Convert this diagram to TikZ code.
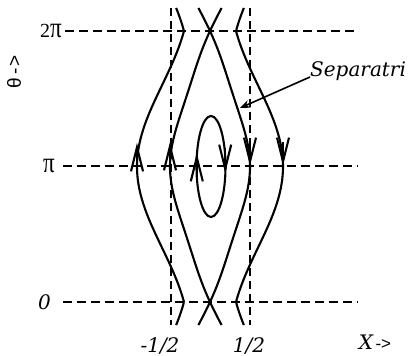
\documentclass[tikz,border=0pt]{standalone}
\usepackage{fontspec}
\usepackage{graphicx}
\setmainfont{Liberation Serif}
\newfontfamily\lblfont{DejaVu Serif}
\newfontfamily\sansfnt{Liberation Sans}
\usetikzlibrary{arrows.meta}
\newcommand{\bigpi}{\scalebox{1.15}[1.45]{π}}
\begin{document}
\begin{tikzpicture}[x=1pt,y=1pt,
  hdash/.style={dash pattern=on 9pt off 5pt, line width=2pt},
  vdash/.style={dash pattern=on 8pt off 5pt, line width=1.3pt},
  traj/.style={line width=2.1pt},
  barb/.style={traj, -{Straight Barb[length=24pt,width=12pt]}},
  romlbl/.style={font=\fontsize{20}{24}\selectfont, inner sep=0pt},
  itlbl/.style={font=\lblfont\itshape\fontsize{20}{24}\selectfont, inner sep=0pt},
  sanslbl/.style={font=\sansfnt\fontsize{19}{22}\selectfont, inner sep=0pt}]
\useasboundingbox (0,0) rectangle (408,356);
% axis labels
\node[romlbl, anchor=east] (t2pi) at (62,325) {2\bigpi};
\node[romlbl, anchor=east] (tpi) at (55,190) {\bigpi};
\node[itlbl, anchor=east] (t0) at (51,54) {0};
\node[itlbl] (tm) at (160,10) {-1/2};
\node[itlbl] (th) at (249,10) {1/2};
\node[inner sep=0pt] (tx) at (375,14) {{\lblfont\itshape\fontsize{20}{24}\selectfont X} {\sansfnt\fontsize{17}{20}\selectfont ->}};
\node[sanslbl, rotate=90] (tth) at (14,284) {θ\kern3pt-\kern2pt>};
% dashed reference lines
\coordinate (a2s) at (65,325); \coordinate (a2e) at (358,325);
\coordinate (a1s) at (63,190); \coordinate (a1e) at (358,190);
\coordinate (a0s) at (63,54);  \coordinate (a0e) at (358,54);
\coordinate (v1t) at (171,348); \coordinate (v1b) at (171,31);
\coordinate (v2t) at (250,348); \coordinate (v2b) at (250,31);
\draw[hdash] (a2s) -- (a2e);
\draw[hdash] (a1s) -- (a1e);
\draw[hdash] (a0s) -- (a0e);
\draw[vdash] (v1t) -- (v1b);
\draw[vdash] (v2t) -- (v2b);
% trajectories
\draw[traj] plot[domain=-15.3:195.3, samples=121, smooth]
  ({210-26-23.5*abs(sin(\x))-23.5*sin(\x)^2}, {54+1.50556*\x});
\draw[traj] plot[domain=-15.3:195.3, samples=121, smooth]
  ({210+26+23.5*abs(sin(\x))+23.5*sin(\x)^2}, {54+1.50556*\x});
\draw[traj] plot[domain=-15.3:195.3, samples=121, smooth]
  ({210-40*sin(\x)+4*sin(2*\x)^2}, {54+1.50556*\x});
\draw[traj] plot[domain=-15.3:195.3, samples=121, smooth]
  ({210+40*sin(\x)-4*sin(2*\x)^2}, {54+1.50556*\x});
\draw[traj] (211,189.5) ellipse [x radius=14.5, y radius=50.5];
% direction arrows
\coordinate (p1a) at (137,187); \coordinate (p1b) at (137,213);
\coordinate (p2a) at (170,187); \coordinate (p2b) at (170,214);
\coordinate (p3a) at (196.8,176); \coordinate (p3b) at (196.8,203);
\coordinate (p4a) at (225.2,208); \coordinate (p4b) at (225.2,183);
\coordinate (p5a) at (250,214); \coordinate (p5b) at (250,190);
\coordinate (p6a) at (283,214); \coordinate (p6b) at (283,190);
\draw[barb] (p1a) -- (p1b);
\draw[barb] (p2a) -- (p2b);
\draw[barb] (p3a) -- (p3b);
\draw[barb] (p4a) -- (p4b);
\draw[barb] (p5a) -- (p5b);
\draw[barb] (p6a) -- (p6b);
% separatrix label
\node[font=\lblfont\itshape\fontsize{20}{24}\selectfont, inner sep=0pt, anchor=base west] (sep) at (310,279) {Separatri};
\coordinate (septip) at (240,248);
\draw[line width=1.6pt, -{Stealth[length=10pt,width=8pt]}] (sep.base west) -- (septip);
\end{tikzpicture}
\end{document}
